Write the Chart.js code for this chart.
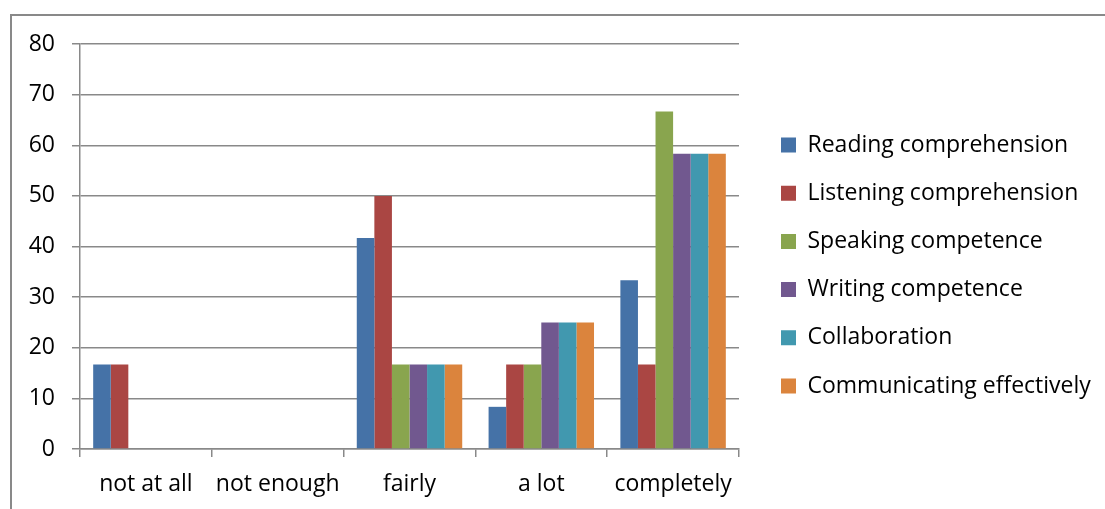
<!DOCTYPE html>
<html>
<head>
<meta charset="utf-8">
<script src="https://cdn.jsdelivr.net/npm/chart.js@4.4.1/dist/chart.umd.min.js"></script>
<style>
  html, body { margin: 0; padding: 0; background: #fff; }
  #wrap { width: 1105px; height: 509px; }
</style>
</head>
<body>
<div id="wrap"><canvas id="chart" width="1105" height="509"></canvas></div>
<script>
const categories = ['not at all', 'not enough', 'fairly', 'a lot', 'completely'];
const seriesNames = ['Reading comprehension', 'Listening comprehension', 'Speaking competence', 'Writing competence', 'Collaboration', 'Communicating effectively'];
const reading = [16.67, 0, 41.67, 8.33, 33.33];
const listening = [16.67, 0, 50, 16.67, 16.67];
const speaking = [0, 0, 16.67, 16.67, 66.67];
const writing = [0, 0, 16.67, 25, 58.33];
const collaboration = [0, 0, 16.67, 25, 58.33];
const communicating = [0, 0, 16.67, 25, 58.33];
const yTicks = [0, 10, 20, 30, 40, 50, 60, 70, 80];

const colors = ['#4572A7', '#AA4643', '#89A54E', '#71588F', '#4198AF', '#DB843D'];
const lineGray = '#898989';
const FONT = "'Open Sans', 'Noto Sans', sans-serif";
const FSIZE = 23;
const LEG_PAD = 25.2;
const LEG_LEFT = 781 - LEG_PAD;

// measure the longest legend label so the legend lands where the reference has it
const mctx = document.createElement('canvas').getContext('2d');
mctx.font = FSIZE + 'px ' + FONT;
const longest = Math.max(...seriesNames.map(n => mctx.measureText(n).width));
const legendWidth = LEG_PAD + 15 + FSIZE / 2 + longest + 10;
const rightPad = 1105 - LEG_LEFT - legendWidth;

const allSeries = [reading, listening, speaking, writing, collaboration, communicating];

const frame = {
    id: 'frame',
    beforeDraw(chart) {
        const ctx = chart.ctx;
        ctx.save();
        ctx.fillStyle = '#fff';
        ctx.fillRect(0, 0, chart.width, chart.height);
        ctx.strokeStyle = lineGray;
        ctx.lineWidth = 2;
        ctx.strokeRect(11, 15, 1200, 600);
        ctx.restore();
    }
};

new Chart(document.getElementById('chart'), {
    type: 'bar',
    data: {
        labels: categories,
        datasets: allSeries.map((values, i) => ({
            label: seriesNames[i],
            data: values,
            xAxisID: 'x',
            yAxisID: 'y',
            backgroundColor: colors[i],
            borderWidth: 0,
            categoryPercentage: 0.8,
            barPercentage: 1.0
        }))
    },
    options: {
        responsive: false,
        animation: false,
        events: [],
        layout: { padding: { left: 0, top: 44, right: rightPad, bottom: 0 } },
        plugins: {
            tooltip: { enabled: false },
            legend: {
                position: 'right',
                align: 'center',
                fullSize: false,
                maxWidth: 700,
                title: { display: true, text: '', font: { size: 14, lineHeight: 1 }, padding: { top: 24, bottom: 0 } },
                labels: {
                    color: '#000',
                    font: { family: FONT, size: FSIZE },
                    boxWidth: 15,
                    boxHeight: 15,
                    padding: LEG_PAD
                }
            }
        },
        scales: {
            x: {
                grid: { drawOnChartArea: false, color: lineGray, lineWidth: 1.5, tickLength: 8 },
                border: { color: lineGray, width: 1.5 },
                ticks: { color: '#000', font: { family: FONT, size: FSIZE }, padding: 14, maxRotation: 0 },
                afterFit: s => { s.height = 60; }
            },
            y: {
                min: 0,
                max: 80,
                afterBuildTicks: s => { s.ticks = yTicks.map(v => ({ value: v })); },
                grid: { color: lineGray, lineWidth: 1.5, tickLength: 8 },
                border: { color: lineGray, width: 1.5 },
                ticks: { color: '#000', font: { family: FONT, size: FSIZE }, padding: 17 },
                afterFit: s => { s.width = 80; }
            },
            gap: {
                type: 'linear',
                position: 'right',
                display: true,
                grid: { display: false },
                border: { display: false },
                ticks: { display: false },
                afterFit: s => { s.width = LEG_LEFT - 739; }
            }
        }
    },
    plugins: [frame]
});
</script>
</body>
</html>
